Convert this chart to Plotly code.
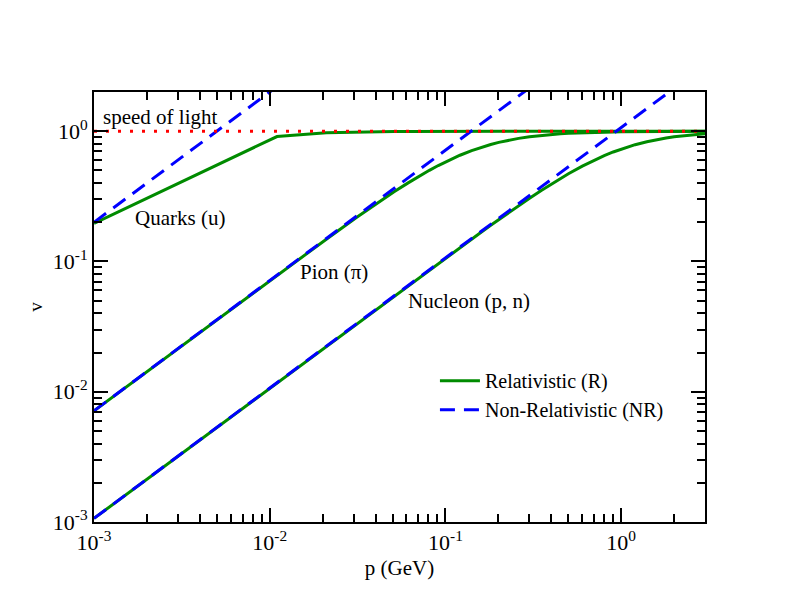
import plotly.graph_objects as go

# momentum samples (GeV)
p = [0.001, 0.011, 0.021, 0.031, 0.041, 0.051, 0.061, 0.071, 0.081, 0.091,
     0.101, 0.121, 0.141, 0.161, 0.181, 0.201, 0.231, 0.261, 0.301, 0.351,
     0.401, 0.451, 0.501, 0.601, 0.701, 0.801, 0.901, 1.001, 1.201, 1.401,
     1.601, 1.801, 2.001, 2.301, 2.601, 3.001]

# relativistic velocities
v_quark_R = [0.1961, 0.9104, 0.9728, 0.9872, 0.9926, 0.9952, 0.9967, 0.9975, 0.9981, 0.9985,
             0.9988, 0.9991, 0.9994, 0.9995, 0.9996, 0.9997, 0.9998, 0.9998, 0.9999, 0.9999,
             0.9999, 0.9999, 1.0, 1.0, 1.0, 1.0, 1.0, 1.0, 1.0, 1.0,
             1.0, 1.0, 1.0, 1.0, 1.0, 1.0]
v_pion_R = [0.007143, 0.07833, 0.1483, 0.2162, 0.2811, 0.3423, 0.3994, 0.4523, 0.5008, 0.5450,
            0.5851, 0.6539, 0.7096, 0.7546, 0.7910, 0.8206, 0.8552, 0.8812, 0.9067, 0.9288,
            0.9441, 0.9550, 0.9631, 0.9739, 0.9806, 0.9851, 0.9882, 0.9904, 0.9933, 0.9950,
            0.9962, 0.9970, 0.9976, 0.9982, 0.9986, 0.9989]
v_nucleon_R = [0.001066, 0.01173, 0.02238, 0.03303, 0.04367, 0.05429, 0.06490, 0.07548, 0.08603, 0.09656,
               0.1071, 0.1279, 0.1487, 0.1692, 0.1895, 0.2095, 0.2391, 0.2681, 0.3056, 0.3505,
               0.3931, 0.4333, 0.4711, 0.5395, 0.5986, 0.6494, 0.6927, 0.7297, 0.7881, 0.8310,
               0.8628, 0.8869, 0.9055, 0.9260, 0.9407, 0.9545]

# non-relativistic velocities (straight lines on log-log)
p_NR = [0.001, 3.001]
v_quark_NR = [0.2, 600.2]
v_pion_NR = [0.007143, 21.44]
v_nucleon_NR = [0.001066, 3.199]

# speed of light
p_c = [0.001, 3.001]
v_c = [1.0, 1.0]

GREEN = "rgb(0,139,0)"
BLUE = "rgb(0,0,255)"
RED = "rgb(255,0,0)"
FONT = "Liberation Serif, Times New Roman, serif"

fig = go.Figure()

for i, vr in enumerate([v_quark_R, v_pion_R, v_nucleon_R]):
    fig.add_trace(go.Scatter(x=p, y=vr, mode="lines",
                             line=dict(color=GREEN, width=3),
                             name="Relativistic (R)", legendgroup="R",
                             showlegend=(i == 0)))
for i, vn in enumerate([v_quark_NR, v_pion_NR, v_nucleon_NR]):
    fig.add_trace(go.Scatter(x=p_NR, y=vn, mode="lines",
                             line=dict(color=BLUE, width=3, dash="15px,9px"),
                             name="Non-Relativistic (NR)", legendgroup="NR",
                             showlegend=(i == 0)))
fig.add_trace(go.Scatter(x=p_c, y=v_c, mode="lines",
                         line=dict(color=RED, width=3, dash="3px,9px"),
                         showlegend=False))

xt_vals = [0.001, 0.01, 0.1, 1]
xt_text = ["10<sup>-3</sup>", "10<sup>-2</sup>", "10<sup>-1</sup>", "10<sup>0</sup>"]
yt_vals = [0.001, 0.01, 0.1, 1]
yt_text = ["10<sup>-3</sup>", "10<sup>-2</sup>", "10<sup>-1</sup>", "10<sup>0</sup>"]

axis_common = dict(
    type="log", showgrid=False, zeroline=False,
    showline=True, linecolor="black", linewidth=2, mirror="allticks",
    ticks="inside", ticklen=14, tickwidth=2, tickcolor="black",
    tickfont=dict(family=FONT, size=22, color="black"),
    minor=dict(ticks="inside", ticklen=8, tickwidth=2, tickcolor="black",
               dtick="D1", showgrid=False),
)

fig.update_xaxes(range=[-3, 0.4771], tickvals=xt_vals, ticktext=xt_text,
                 title=dict(text="p (GeV)", font=dict(family=FONT, size=21, color="black"),
                            standoff=6),
                 **axis_common)
fig.update_yaxes(range=[-3, 0.301], tickvals=yt_vals, ticktext=yt_text,
                 title=dict(text="v", font=dict(family=FONT, size=19, color="black"),
                            standoff=5),
                 **axis_common)

labels = [
    ("speed of light", -2.943, 0.107),
    ("Quarks (u)", -2.761, -0.664),
    ("Pion (\u03c0)", -1.824, -1.080),
    ("Nucleon (p, n)", -1.210, -1.304),
]
for txt, lx, ly in labels:
    fig.add_annotation(x=lx, y=ly, xref="x", yref="y", text=txt, showarrow=False,
                       xanchor="left", yanchor="middle", xshift=-3,
                       font=dict(family=FONT, size=21, color="black"))

fig.update_layout(
    width=792, height=612,
    margin=dict(l=86, r=95, t=84, b=98),
    paper_bgcolor="white", plot_bgcolor="white",
    font=dict(family=FONT, size=21, color="black"),
    legend=dict(x=0.558, y=0.295, xanchor="left", yanchor="middle",
                bgcolor="rgba(0,0,0,0)", borderwidth=0,
                font=dict(family=FONT, size=20, color="black"),
                itemwidth=40, tracegroupgap=0),
)

fig.write_html("out.html")
